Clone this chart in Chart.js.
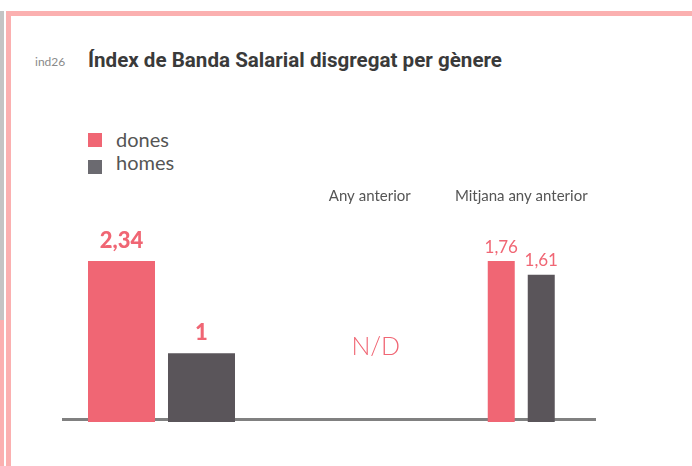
<!DOCTYPE html>
<html><head><meta charset="utf-8">
<script src="https://cdn.jsdelivr.net/npm/chart.js@4/dist/chart.umd.min.js"></script>
<style>
html,body{margin:0;padding:0;background:#fff;}
body{width:692px;height:466px;position:relative;overflow:hidden;font-family:Lato,"Open Sans",sans-serif;}
.abs{position:absolute;}
.lg-box{position:absolute;width:14px;height:14px;}
.lg-txt{position:absolute;font:400 20px Lato,sans-serif;line-height:20px;color:#555;white-space:nowrap;}
#title{transform-origin:0 0;}
</style></head><body>
<div class="abs" style="left:0;top:11px;width:4px;height:309px;background:#c4c4c4"></div>
<div class="abs" style="left:0;top:320px;width:4px;height:146px;background:#fbb0b0"></div>
<div class="abs" style="left:6px;top:11px;width:5px;height:455px;background:#fbb0b0"></div>
<div class="abs" style="left:6px;top:11px;width:686px;height:5px;background:#fbb0b0"></div>
<div class="abs" style="left:35px;top:56px;font:12px Lato,sans-serif;line-height:12px;color:#8a8a8a">ind26</div>
<div class="abs" id="title" style="left:88px;top:50px;font:bold 21px Roboto,sans-serif;line-height:20px;color:#3a3a3a;white-space:nowrap">Índex de Banda Salarial disgregat per gènere</div>
<div id="legend"></div>
<div class="abs" style="left:62px;top:418px;width:534px;height:3px;background:#808080"></div>
<div class="abs" style="left:62px;top:184px;width:199px;height:238px"><canvas id="cA" width="199" height="238"></canvas></div>
<div class="abs" style="left:294px;top:184px;width:303px;height:238px"><canvas id="cB" width="303" height="238"></canvas></div>
<script>
// ---- data ----
const seriesNames = ['dones', 'homes'];
const currentCategories = [''];
const currentDones = [2.34];
const currentHomes = [1];
const previousCategories = ['Any anterior', 'Mitjana any anterior'];
const previousDones = [null, 1.76];
const previousHomes = [null, 1.61];
const missingText = 'N/D';

// ---- style ----
const PINK = '#F06674';
const DARK = '#5A555A';
const HEADROOM = 1.33;

// fit the condensed title to its width in the reference
(function(){
  const t = document.getElementById('title');
  const w = t.getBoundingClientRect().width;
  t.style.transform = 'scaleX(' + (414 / w) + ')';
})();

function fmt(v){ return String(v).replace('.', ','); }

const valueLabels = {
  id: 'valueLabels',
  afterDatasetsDraw(chart, args, opts) {
    const ctx = chart.ctx;
    chart.data.datasets.forEach((ds, i) => {
      const meta = chart.getDatasetMeta(i);
      meta.data.forEach((bar, j) => {
        const v = ds.data[j];
        if (v == null) return;
        ctx.save();
        ctx.font = opts.font;
        ctx.fillStyle = PINK;
        ctx.textAlign = 'center';
        ctx.textBaseline = 'middle';
        ctx.fillText(fmt(v), bar.x, bar.y - opts.offset);
        ctx.restore();
      });
    });
    if (opts.missing) {
      const xs = chart.scales.x, area = chart.chartArea;
      chart.data.labels.forEach((lab, j) => {
        const all = chart.data.datasets.every(ds => ds.data[j] == null);
        if (!all) return;
        ctx.save();
        ctx.font = '300 25px Lato, sans-serif';
        ctx.fillStyle = PINK;
        ctx.textAlign = 'center';
        ctx.textBaseline = 'middle';
        ctx.fillText(opts.missing, xs.getPixelForValue(j) + 6, area.bottom - 0.35 * (area.bottom - area.top));
        ctx.restore();
      });
    }
  }
};

function makeChart(id, labels, dones, homes, cp, bp, labelOpts) {
  const max = Math.max(...dones.filter(v => v != null), ...homes.filter(v => v != null));
  return new Chart(document.getElementById(id), {
    type: 'bar',
    data: {
      labels,
      datasets: [
        { label: seriesNames[0], data: dones, backgroundColor: PINK, categoryPercentage: cp, barPercentage: bp },
        { label: seriesNames[1], data: homes, backgroundColor: DARK, categoryPercentage: cp, barPercentage: bp }
      ]
    },
    options: {
      responsive: false,
      animation: false,
      skipNull: true,
      layout: { padding: 0 },
      plugins: { legend: { display: false }, tooltip: { enabled: false }, valueLabels: labelOpts },
      scales: {
        x: {
          position: 'top',
          grid: { display: false, drawTicks: false },
          border: { display: false },
          ticks: { color: '#555', font: { family: 'Lato', size: 15 }, padding: 3 }
        },
        y: { display: false, min: 0, max: max * HEADROOM }
      }
    },
    plugins: [valueLabels]
  });
}

const chartA = makeChart('cA', currentCategories, currentDones, currentHomes, 0.804, 0.8375,
  { font: '900 22px Lato, sans-serif', offset: 20 });
const chartB = makeChart('cB', previousCategories, previousDones, previousHomes, 0.528, 0.675,
  { font: '17px Lato, sans-serif', offset: 14, missing: missingText });

// legend built from the datasets
const lg = document.getElementById('legend');
chartA.data.datasets.forEach((ds, i) => {
  const b = document.createElement('div');
  b.className = 'lg-box';
  b.style.left = '88px'; b.style.top = (133 + i * 27) + 'px';
  b.style.background = i === 0 ? ds.backgroundColor : '#6b6a70';
  const t = document.createElement('div');
  t.className = 'lg-txt';
  t.style.left = '116px'; t.style.top = (129 + i * 23) + 'px';
  t.textContent = ds.label;
  lg.appendChild(b); lg.appendChild(t);
});
</script>
</body></html>
